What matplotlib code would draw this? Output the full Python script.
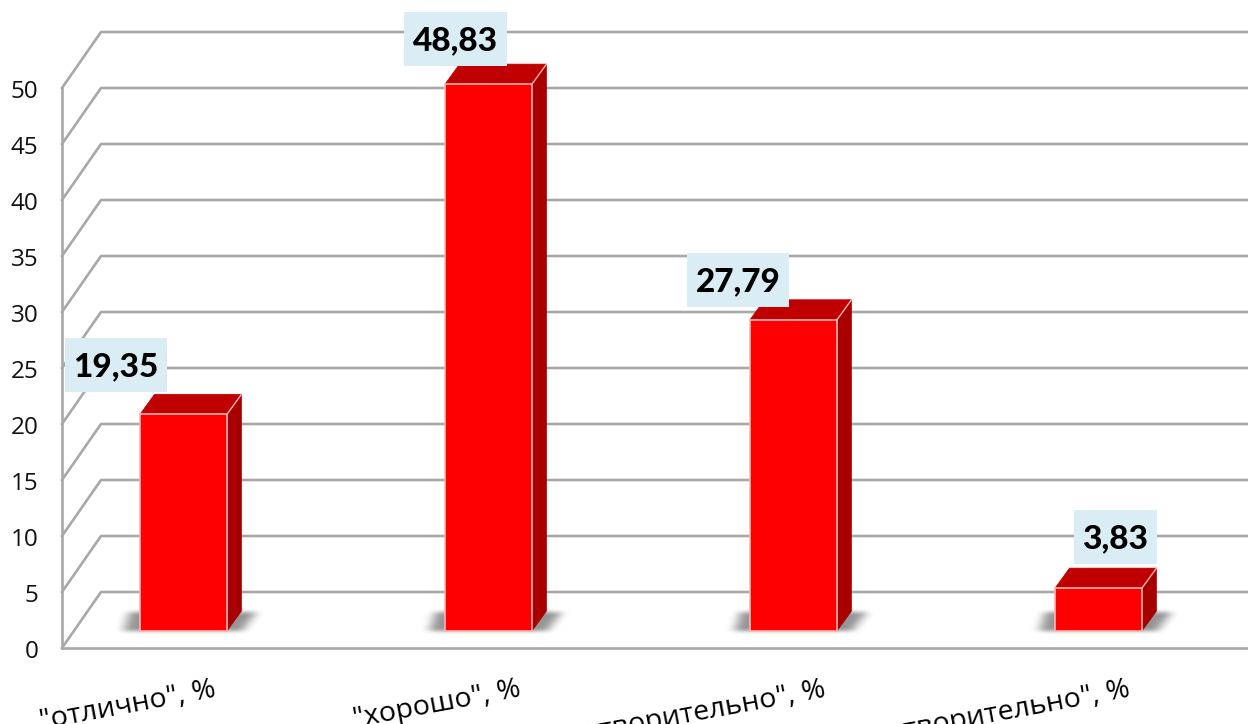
import numpy as np
import matplotlib
matplotlib.use("Agg")
import matplotlib.pyplot as plt
from matplotlib.patches import Polygon, Rectangle
from matplotlib.transforms import ScaledTranslation, IdentityTransform

categories = ['"отлично", %', '"хорошо", %', '"удовлетворительно", %', '"неудовлетворительно", %']
values = [19.35, 48.83, 27.79, 3.83]
value_labels = ['19,35', '48,83', '27,79', '3,83']
y_ticks = [0, 5, 10, 15, 20, 25, 30, 35, 40, 45, 50]

W, H = 1248, 724
fig = plt.figure(figsize=(W / 100, H / 100), dpi=100, facecolor='white')
L, R, T, B = 62, 1248, 32, 648
ax = fig.add_axes([L / W, 1 - B / H, (R - L) / W, (B - T) / H])
PXY = 11.2
PXX = 305.0
X0 = 183.5
xlim = ((L - X0) / PXX, (R - X0) / PXX)
ylim = (0, (B - T) / PXY)
ax.patch.set_visible(False)
for s in ax.spines.values():
    s.set_visible(False)

dx = lambda p: p / PXX
dy = lambda p: p / PXY
xmin, xmax = xlim
GRID = '#A8A8A8'
lw = 1.9
# 3D wall: diagonals and back gridlines
for k in y_ticks:
    ax.plot([xmin, xmin + dx(39), xmax], [k, k + 5, k + 5], color=GRID, lw=lw,
            clip_on=False, solid_joinstyle='round', zorder=1)
ax.plot([xmin, xmin], [0, 50], color=GRID, lw=lw, clip_on=False, zorder=1)
ax.plot([xmin, xmax], [0, 0], color=GRID, lw=lw, clip_on=False, zorder=1)

bw = dx(87)
floor = dy(17)
ddx, ddy = dx(14.5), dy(20)
x = np.arange(len(values))
offsets = [(-67.5, 49.5), (-33, 45), (-55.5, 40), (16.5, 51)]


def smooth(a, n, axis):
    k = np.hanning(n + 2)[1:-1]
    k = k / k.sum()
    return np.apply_along_axis(lambda r: np.convolve(r, k, mode='same'), axis, a)


# soft floor shadow, built once on a pixel grid around a bar
gx, gy = np.meshgrid(np.arange(-95, 105), np.arange(0, 46))
slant = gy * 0.75
mask = ((gx > -63 + slant * 0.4) & (gx < 50 + slant)).astype(float)
mask[(gy < 11) | (gy > 29)] = 0
alpha = smooth(smooth(mask, 25, 1), 9, 0) * 0.55
rgba = np.zeros(alpha.shape + (4,))
rgba[..., :3] = 0.25
rgba[..., 3] = alpha
for xi in x:
    ax.imshow(rgba, origin='lower', aspect='auto', interpolation='bilinear', zorder=2,
              extent=(xi + dx(-95), xi + dx(105), floor - dy(11), floor + dy(35)))

EDGE = '#FFB4B4'
ax.bar(x, values, width=bw, bottom=floor, color='#FF0000', edgecolor=EDGE, linewidth=1.2, zorder=4)
for xi, v in zip(x, values):
    top = floor + v
    left, right = xi - bw / 2, xi + bw / 2
    ax.add_patch(Polygon([(left, top), (right, top), (right + ddx, top + ddy), (left + ddx, top + ddy)],
                         closed=True, fc='#C00000', ec='#C00000', lw=0.5, zorder=3))
    ax.add_patch(Polygon([(right, floor), (right + ddx, floor + ddy), (right + ddx, top + ddy), (right, top)],
                         closed=True, fc='#A80000', ec='#A80000', lw=0.5, zorder=3))
    ax.plot([right, right + ddx], [top, top + ddy], color=EDGE, lw=1.0, zorder=5)

ax.set_xlim(xlim)
ax.set_ylim(ylim)

renderer = fig.canvas.get_renderer()
for xi, v, lab, (ox, oy) in zip(x, values, value_labels, offsets):
    t = ax.annotate(lab, (xi, floor + v), xytext=(ox * 0.72, (oy - 2) * 0.72), textcoords='offset points',
                    ha='center', va='center', family='Lato', fontweight='black', fontsize=24,
                    color='black', annotation_clip=False, zorder=7)
    ext = t.get_window_extent(renderer)
    px, py = ax.transData.transform((xi, floor + v))
    ax.add_patch(Rectangle((ext.x0 - 8.5, py + oy - 27), ext.width + 17, 54, transform=IdentityTransform(),
                           fc='#DAEDF4', ec='none', clip_on=False, zorder=6))

ax.set_yticks(y_ticks, [str(k) for k in y_ticks], family='Open Sans', fontsize=17.5, color='#111111')
ax.tick_params(axis='y', length=0, pad=17)
yshift = ScaledTranslation(0, -1 / 100, fig.dpi_scale_trans)
for t in ax.get_yticklabels():
    t.set_transform(t.get_transform() + yshift)
ax.set_xticks(x, categories, family='Open Sans', fontsize=20.5, color='black',
              rotation=10.5, ha='right', rotation_mode='anchor')
ax.tick_params(axis='x', length=0, pad=20)
shift = ScaledTranslation(29 / 100, 0, fig.dpi_scale_trans)
for t in ax.get_xticklabels():
    t.set_transform(t.get_transform() + shift)

fig.savefig('out.png', dpi=100, facecolor='white')
